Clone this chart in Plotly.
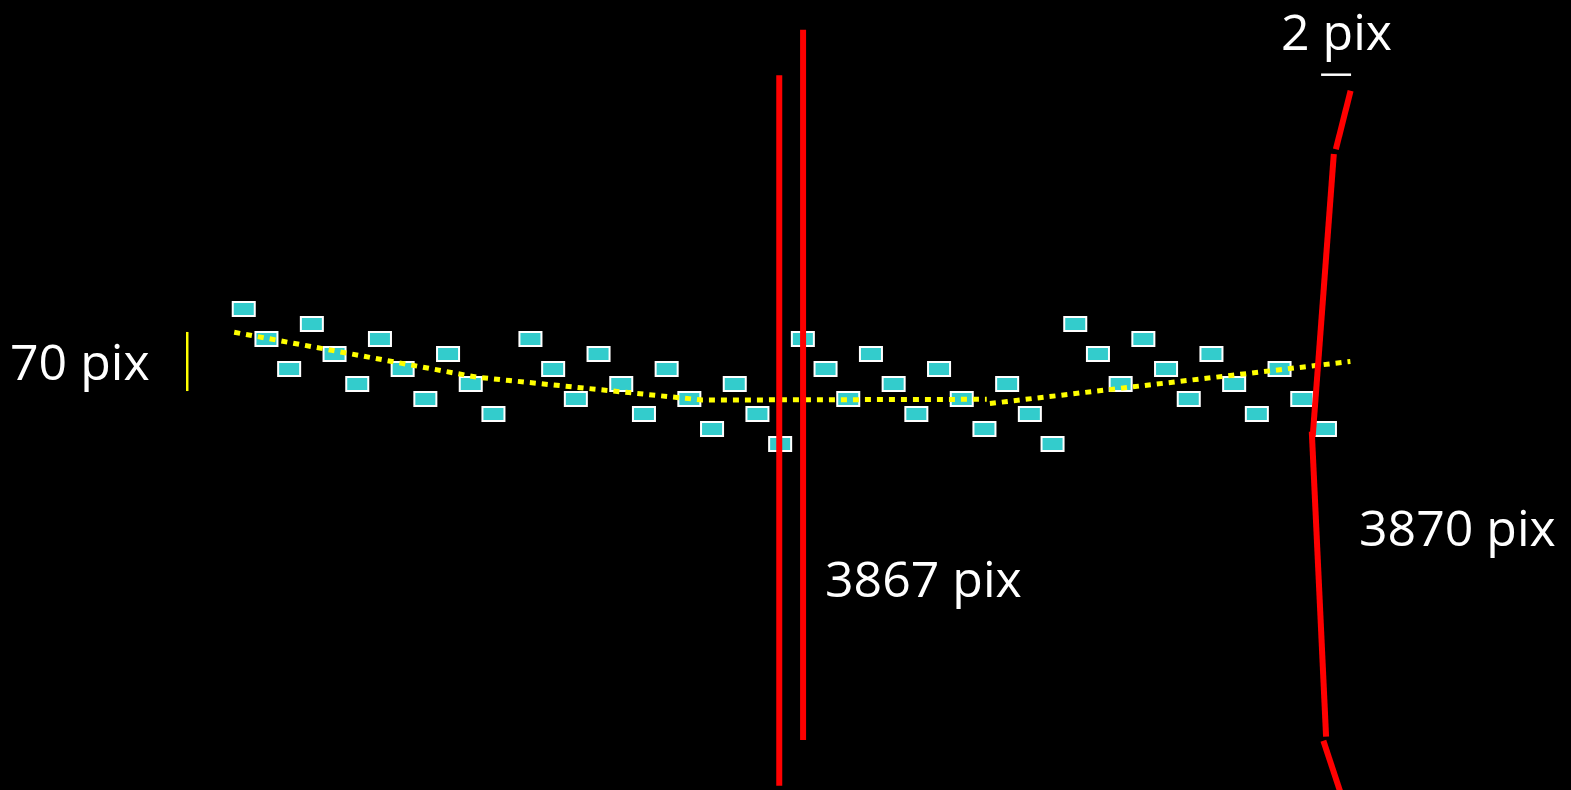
import plotly.graph_objects as go

# ---------------- data ----------------
# tile positions along the strip (column steps; a wider gap after the 12th tile)
tile_col = [0, 1, 2, 3, 4, 5, 6, 7, 8, 9, 10, 11,
            12.63, 13.63, 14.63, 15.63, 16.63, 17.63, 18.63, 19.63, 20.63, 21.63, 22.63, 23.63,
            24.63, 25.63, 26.63, 27.63, 28.63, 29.63, 30.63, 31.63, 32.63, 33.63, 34.63, 35.63,
            36.63, 37.63, 38.63, 39.63, 40.63, 41.63, 42.63, 43.63, 44.63, 45.63, 46.63, 47.63]
# vertical offset of each tile (row steps, downward)
tile_row = [0, 2, 4, 1, 3, 5, 2, 4, 6, 3, 5, 7,
            2, 4, 6, 3, 5, 7, 4, 6, 8, 5, 7, 9,
            2, 4, 6, 3, 5, 7, 4, 6, 8, 5, 7, 9,
            1, 3, 5, 2, 4, 6, 3, 5, 7, 4, 6, 8]

# yellow dotted drift trend
trend_col = [-0.42, 10.28, 20.21, 32.73, None, 32.87, 48.75]
trend_row = [1.55, 4.55, 6.07, 6.02, None, 6.3, 3.5]

# red seam lines
seam_a_col = [23.59, 23.59]
seam_a_row = [-15.58, 31.78]
seam_b_col = [24.64, 24.64]
seam_b_row = [-18.62, 28.73]
bracket_col = [48.76, 48.11, None, 48.02, 47.09, None, 47.05, 47.68, None, 47.56, 48.51]
bracket_row = [-14.55, -10.65, None, -10.33, 8.51, None, 8.18, 28.51, None, 28.78, 33.13]

# scale markers
yellow_mark_col = [-2.49, -2.49]
yellow_mark_row = [1.53, 5.47]
white_mark_col = [47.46, 48.78]
white_mark_row = [-15.62, -15.62]

# labels
label_text = ["70 pix", "3867 pix", "3870 pix", "2 pix"]
label_col = [-10.40, 25.50, 49.05, 45.62]
label_row = [3.45, 17.9, 14.55, -18.55]

# ---------------- figure ----------------
fig = go.Figure()

shapes = []
for c, r in zip(tile_col, tile_row):
    shapes.append(dict(type="rect", xref="x", yref="y",
                       x0=c - 0.485, x1=c + 0.485, y0=r - 0.467, y1=r + 0.467,
                       line=dict(color="white", width=2), fillcolor="#33CCCC",
                       layer="below"))

fig.add_trace(go.Scatter(x=trend_col, y=trend_row, mode="lines",
                         line=dict(color="#FFFF00", width=5, dash="6px,6px"),
                         connectgaps=False))
fig.add_trace(go.Scatter(x=seam_a_col, y=seam_a_row, mode="lines",
                         line=dict(color="#FF0000", width=6)))
fig.add_trace(go.Scatter(x=seam_b_col, y=seam_b_row, mode="lines",
                         line=dict(color="#FF0000", width=6)))
fig.add_trace(go.Scatter(x=bracket_col, y=bracket_row, mode="lines",
                         line=dict(color="#FF0000", width=6), connectgaps=False))
fig.add_trace(go.Scatter(x=yellow_mark_col, y=yellow_mark_row, mode="lines",
                         line=dict(color="#FFFF00", width=2.5)))
fig.add_trace(go.Scatter(x=white_mark_col, y=white_mark_row, mode="lines",
                         line=dict(color="white", width=2.5)))

annotations = []
for t, c, r in zip(label_text, label_col, label_row):
    annotations.append(dict(text=t, x=c, y=r, xref="x", yref="y",
                            xanchor="left", yanchor="middle", showarrow=False,
                            font=dict(family="Open Sans", size=50, color="white")))

fig.update_layout(
    width=1571, height=790,
    margin=dict(l=0, r=0, t=0, b=0),
    paper_bgcolor="black", plot_bgcolor="black",
    showlegend=False, hovermode=False,
    shapes=shapes, annotations=annotations,
    xaxis=dict(range=[-10.738, 58.469], visible=False, fixedrange=True),
    yaxis=dict(range=[32.067, -20.6], visible=False, fixedrange=True),
)

fig.write_html("out.html", config={"displayModeBar": False},
               post_script="document.body.style.margin='0';document.body.style.overflow='hidden';document.body.style.background='black';")
